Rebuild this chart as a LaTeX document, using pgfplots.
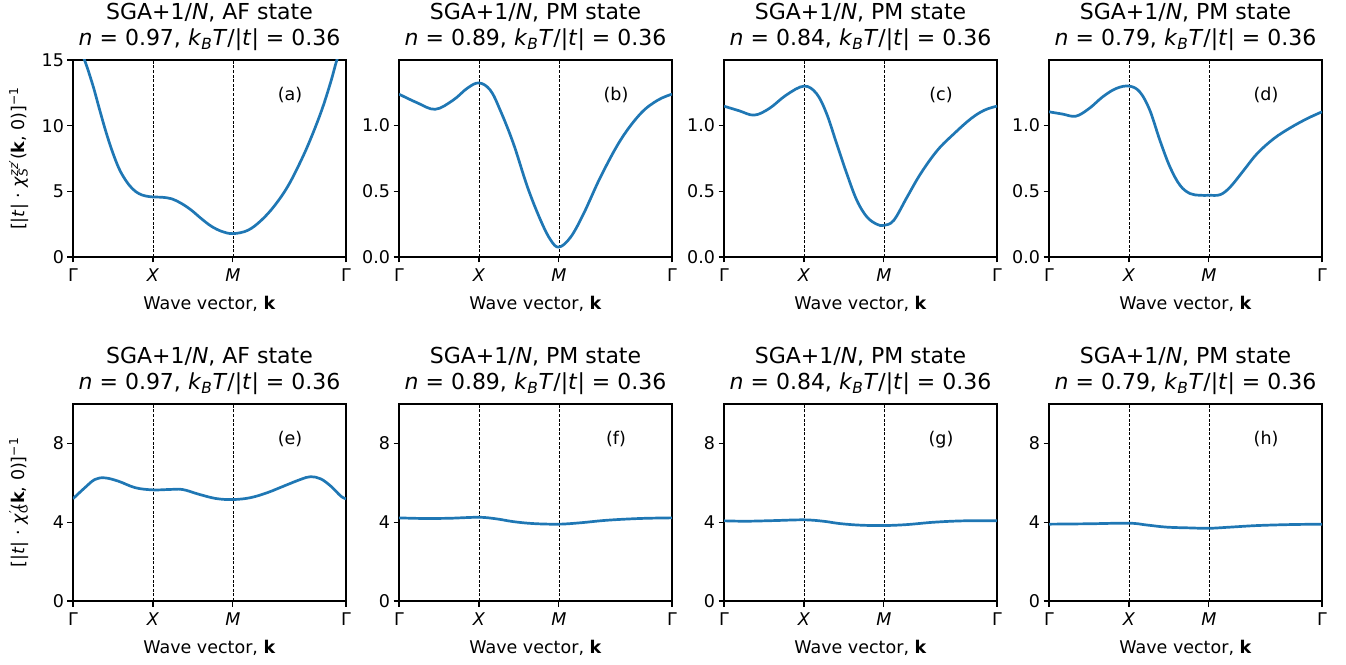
\documentclass[border=0pt]{standalone}
\usepackage{fontspec}
\setmainfont{DejaVu Sans}
\usepackage{pgfplots}
\pgfplotsset{compat=1.18}
\definecolor{mplblue}{HTML}{1F77B4}

\newcommand{\fsmall}{\fontsize{17.5}{21}\selectfont}
\newcommand{\ftitle}{\fontsize{22}{26}\selectfont}

\pgfplotsset{
  panel/.style={
    scale only axis, width=273pt, height=197pt,
    xmin=0, xmax=3.41421,
    xtick={0,1,2,3.41421},
    xticklabels={Γ,\textit{X},\textit{M},Γ},
    tick pos=left, tick align=outside,
    major tick length=5.5pt,
    every tick/.style={black, line width=1.1pt},
    axis line style={line width=1.1pt},
    xmajorgrids,
    grid style={black, line width=0.8pt, dash pattern=on 3pt off 1.6pt},
    ticklabel style={font=\fsmall},
    xticklabel style={yshift=-3pt},
    /pgf/number format/assume math mode=true,
    xlabel={Wave vector, \textbf{k}},
    xlabel style={at={(rel axis cs:0.5,-0.264)}, anchor=base, font=\fsmall},
    title style={at={(rel axis cs:0.5,1)}, anchor=south, inner sep=0pt,
      yshift=3pt, align=center, font=\ftitle},
    ylabel style={at={(rel axis cs:-0.198,0.5)}, anchor=center, font=\fsmall},
  },
  toprow/.style={panel, ymin=0, ymax=1.494, ytick={0,0.5,1.0},
    yticklabel style={/pgf/number format/fixed, /pgf/number format/fixed zerofill,
      /pgf/number format/precision=1}},
  botrow/.style={panel, ymin=0, ymax=10, ytick={0,4,8}},
  curve/.style={mplblue, line width=2.7pt, smooth, tension=0.6, mark=none},
}

\begin{document}
\begin{tikzpicture}
\useasboundingbox (0,0) rectangle (1346pt,664pt);

% (a) spin, AF
\begin{axis}[panel, at={(73pt,407pt)}, anchor=south west,
  ymin=0, ymax=15, ytick={0,5,10,15},
  title={SGA+1/\textit{N}, AF state\\\textit{n} = 0.97, \textit{k}\textsubscript{\textit{B}}\textit{T}/|\textit{t}| = 0.36},
  ylabel={[|\textit{t}| · \textit{χ}\rlap{\textsubscript{\textit{S}}}\textsuperscript{\textit{zz}′}(\textbf{k}, 0)]\textsuperscript{−1}}]
\addplot[curve] coordinates {
 (0,16.3) (0.07,15.9) (0.144,15.0) (0.247,13.1) (0.329,11.3) (0.412,9.53)
 (0.494,8.0) (0.576,6.73) (0.658,5.85) (0.741,5.21) (0.823,4.83) (0.905,4.65)
 (1.0,4.57) (1.111,4.55) (1.235,4.43) (1.358,4.07) (1.481,3.56) (1.605,2.92)
 (1.728,2.35) (1.86,1.95) (2.0,1.78) (2.186,2.03) (2.356,2.80) (2.525,3.94)
 (2.694,5.46) (2.864,7.50) (2.991,9.28) (3.118,11.31) (3.224,13.34) (3.300,15.0)
 (3.36,15.9) (3.414,16.3)};
\node[font=\fsmall] at (rel axis cs:0.795,0.82) {(a)};
\end{axis}

% (b)
\begin{axis}[toprow, at={(399pt,407pt)}, anchor=south west,
  title={SGA+1/\textit{N}, PM state\\\textit{n} = 0.89, \textit{k}\textsubscript{\textit{B}}\textit{T}/|\textit{t}| = 0.36}]
\addplot[curve] coordinates {
 (0,1.235) (0.226,1.17) (0.452,1.12) (0.678,1.19) (0.854,1.28) (1.0,1.32)
 (1.142,1.265) (1.268,1.11) (1.431,0.86) (1.607,0.53) (1.770,0.28) (1.895,0.13)
 (2.0,0.075) (2.146,0.15) (2.310,0.33) (2.523,0.61) (2.774,0.89) (3.025,1.09)
 (3.238,1.19) (3.414,1.235)};
\node[font=\fsmall] at (rel axis cs:0.795,0.82) {(b)};
\end{axis}

% (c)
\begin{axis}[toprow, at={(724pt,407pt)}, anchor=south west,
  title={SGA+1/\textit{N}, PM state\\\textit{n} = 0.84, \textit{k}\textsubscript{\textit{B}}\textit{T}/|\textit{t}| = 0.36}]
\addplot[curve] coordinates {
 (0,1.144) (0.189,1.109) (0.378,1.076) (0.568,1.127) (0.778,1.228) (1.0,1.296)
 (1.156,1.24) (1.282,1.089) (1.408,0.861) (1.535,0.633) (1.661,0.43) (1.787,0.304)
 (1.913,0.248) (2.0,0.240) (2.123,0.278) (2.291,0.456) (2.460,0.633) (2.670,0.81)
 (2.880,0.937) (3.090,1.05) (3.258,1.114) (3.414,1.144)};
\node[font=\fsmall] at (rel axis cs:0.795,0.82) {(c)};
\end{axis}

% (d)
\begin{axis}[toprow, at={(1049pt,407pt)}, anchor=south west,
  title={SGA+1/\textit{N}, PM state\\\textit{n} = 0.79, \textit{k}\textsubscript{\textit{B}}\textit{T}/|\textit{t}| = 0.36}]
\addplot[curve] coordinates {
 (0,1.101) (0.168,1.084) (0.336,1.068) (0.504,1.127) (0.672,1.215) (0.840,1.278)
 (1.0,1.296) (1.134,1.253) (1.260,1.114) (1.386,0.886) (1.512,0.684) (1.638,0.544)
 (1.764,0.481) (1.890,0.468) (2.0,0.468) (2.142,0.473) (2.268,0.532) (2.436,0.658)
 (2.604,0.785) (2.814,0.899) (3.024,0.982) (3.233,1.051) (3.414,1.101)};
\node[font=\fsmall] at (rel axis cs:0.795,0.82) {(d)};
\end{axis}

% (e) charge, AF
\begin{axis}[botrow, at={(73pt,63pt)}, anchor=south west,
  title={SGA+1/\textit{N}, AF state\\\textit{n} = 0.97, \textit{k}\textsubscript{\textit{B}}\textit{T}/|\textit{t}| = 0.36},
  ylabel={[|\textit{t}| · \textit{χ}\rlap{\textsubscript{\textit{C}}}\textsuperscript{′}(\textbf{k}, 0)]\textsuperscript{−1}}]
\addplot[curve] coordinates {
 (0,5.19) (0.148,5.75) (0.274,6.17) (0.400,6.25) (0.569,6.08) (0.780,5.75)
 (1.0,5.64) (1.201,5.66) (1.370,5.66) (1.581,5.41) (1.791,5.20) (2.0,5.15)
 (2.213,5.24) (2.424,5.49) (2.634,5.83) (2.845,6.17) (2.971,6.31) (3.098,6.20)
 (3.224,5.83) (3.351,5.32) (3.414,5.19)};
\node[font=\fsmall] at (rel axis cs:0.795,0.82) {(e)};
\end{axis}

% (f)
\begin{axis}[botrow, at={(399pt,63pt)}, anchor=south west,
  title={SGA+1/\textit{N}, PM state\\\textit{n} = 0.89, \textit{k}\textsubscript{\textit{B}}\textit{T}/|\textit{t}| = 0.36}]
\addplot[curve] coordinates {
 (0,4.22) (0.294,4.19) (0.630,4.20) (1.0,4.25) (1.218,4.17) (1.428,4.03)
 (1.680,3.93) (2.0,3.90) (2.268,3.97) (2.604,4.10) (3.023,4.19) (3.414,4.22)};
\node[font=\fsmall] at (rel axis cs:0.795,0.82) {(f)};
\end{axis}

% (g)
\begin{axis}[botrow, at={(724pt,63pt)}, anchor=south west,
  title={SGA+1/\textit{N}, PM state\\\textit{n} = 0.84, \textit{k}\textsubscript{\textit{B}}\textit{T}/|\textit{t}| = 0.36}]
\addplot[curve] coordinates {
 (0,4.07) (0.273,4.05) (0.610,4.08) (1.0,4.12) (1.240,4.05) (1.450,3.93)
 (1.703,3.85) (2.0,3.83) (2.291,3.88) (2.628,4.0) (3.006,4.07) (3.414,4.07)};
\node[font=\fsmall] at (rel axis cs:0.795,0.82) {(g)};
\end{axis}

% (h)
\begin{axis}[botrow, at={(1049pt,63pt)}, anchor=south west,
  title={SGA+1/\textit{N}, PM state\\\textit{n} = 0.79, \textit{k}\textsubscript{\textit{B}}\textit{T}/|\textit{t}| = 0.36}]
\addplot[curve] coordinates {
 (0,3.90) (0.504,3.92) (1.0,3.95) (1.218,3.86) (1.470,3.75) (1.764,3.71)
 (2.0,3.69) (2.268,3.75) (2.604,3.83) (3.023,3.88) (3.414,3.90)};
\node[font=\fsmall] at (rel axis cs:0.795,0.82) {(h)};
\end{axis}
\end{tikzpicture}
\end{document}
